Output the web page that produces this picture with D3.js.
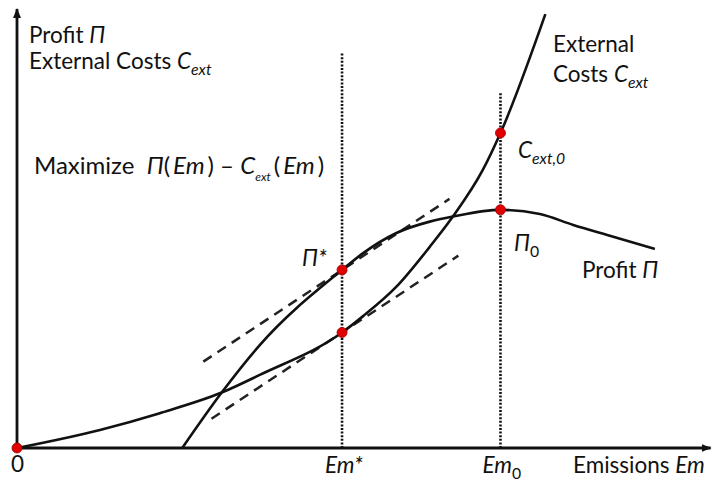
<!DOCTYPE html>
<html lang="en">
    <head>
        <meta charset="utf-8">
        <title>Profit vs External Costs</title>
        <script type="text/javascript" src="https://d3js.org/d3.v7.min.js"></script>
        <style type="text/css">
          body { margin: 0; background: #fff; }
          text { font-family: Lato, "Open Sans", sans-serif; fill: #111; white-space: pre; }
        </style>
    </head>
    <body>
        <svg width="713" height="481"></svg>
        <script type="text/javascript">

            const svg = d3.select("svg");

            // emissions (x) and values (y), arbitrary units 0..10
            const profitEm  = [2.43, 3.01, 3.57, 4.78, 5.09, 5.58, 6.07, 6.41, 7.11, 7.69, 8.18, 8.68, 9.38];
            const profitVal = [0, 1.32, 2.45, 4.24, 4.64, 5.12, 5.39, 5.51, 5.67, 5.57, 5.31, 5.07, 4.74];

            const costEm  = [0, 1.22, 2.10, 3.01, 3.57, 4.78, 5.09, 5.58, 6.07, 6.41, 6.85, 7.11, 7.77];
            const costVal = [0, 0.43, 0.83, 1.32, 1.74, 2.75, 3.14, 3.84, 4.79, 5.51, 6.62, 7.50, 10.33];

            const emStar = 4.78, emZero = 7.11;
            const piStar = 4.24, cStar = 2.75, piZero = 5.67, cZero = 7.50;

            // tangent lines (same slope), start/end emissions
            const tangentSlope = 1.07;
            const tangentUpper = [2.74, 6.36];
            const tangentLower = [2.86, 6.49];

            // top of the dotted guides
            const guideTop = [9.43, 8.48];

            //scales
            const x = d3.scaleLinear().domain([0, 10]).range([17, 697]);
            const y = d3.scaleLinear().domain([0, 10]).range([448, 28]);

            const line = d3.line()
                           .x(d => x(d[0]))
                           .y(d => y(d[1]))
                           .curve(d3.curveMonotoneX);

            const straight = d3.line().x(d => x(d[0])).y(d => y(d[1]));

            // arrow marker
            svg.append("defs").append("marker")
               .attr("id", "arrow")
               .attr("viewBox", "0 0 10 10")
               .attr("refX", 9).attr("refY", 5)
               .attr("markerWidth", 10).attr("markerHeight", 10)
               .attr("markerUnits", "userSpaceOnUse")
               .attr("orient", "auto")
               .append("path")
               .attr("d", "M0,1 L10,5 L0,9 z")
               .style("fill", "#111");

            // dotted guides
            svg.selectAll(".guide")
               .data([emStar, emZero])
               .enter()
               .append("line")
               .attr("x1", d => x(d)).attr("x2", d => x(d))
               .attr("y1", y(0))
               .attr("y2", (d, i) => y(guideTop[i]))
               .style("stroke", "#111")
               .style("stroke-width", 2.6)
               .style("stroke-dasharray", "2,1.6");

            // axes
            svg.append("line")
               .attr("x1", x(0)).attr("y1", y(0))
               .attr("x2", x(10.2)).attr("y2", y(0))
               .style("stroke", "#111").style("stroke-width", 2.8)
               .attr("marker-end", "url(#arrow)");
            svg.append("line")
               .attr("x1", x(0)).attr("y1", y(0))
               .attr("x2", x(0)).attr("y2", y(10.45))
               .style("stroke", "#111").style("stroke-width", 2.8)
               .attr("marker-end", "url(#arrow)");

            // dashed tangents
            const tangents = [
              {range: tangentUpper, em: emStar, v: piStar},
              {range: tangentLower, em: emStar, v: cStar}
            ];
            svg.selectAll(".tangent")
               .data(tangents)
               .enter()
               .append("path")
               .attr("d", t => straight(t.range.map(e => [e, t.v + tangentSlope * (e - t.em)])))
               .style("fill", "none")
               .style("stroke", "#222")
               .style("stroke-width", 2.5)
               .style("stroke-dasharray", "10,7");

            // curves
            svg.append("path")
               .attr("d", line(d3.zip(profitEm, profitVal)))
               .style("fill", "none").style("stroke", "#111").style("stroke-width", 2.6);
            svg.append("path")
               .attr("d", line(d3.zip(costEm, costVal)))
               .style("fill", "none").style("stroke", "#111").style("stroke-width", 2.6);

            // red points
            const dots = [[0, 0], [emStar, piStar], [emStar, cStar], [emZero, piZero], [emZero, cZero]];
            svg.selectAll(".dot")
               .data(dots)
               .enter()
               .append("circle")
               .attr("cx", d => x(d[0]))
               .attr("cy", d => y(d[1]))
               .attr("r", 5)
               .style("fill", "#e00000")
               .style("stroke", "#900")
               .style("stroke-width", 0.8);

            // labels: parts are [text, italic, sub, back-up, size factor]
            function label(px, py, parts, size) {
              const t = svg.append("text").attr("x", px).attr("y", py).style("font-size", size + "px");
              parts.forEach(p => {
                const s = t.append("tspan").text(p[0]);
                if (p[1]) s.style("font-style", "italic");
                if (p[2]) s.style("font-size", (size * (p[4] || 0.7)) + "px").attr("dy", size * 0.28);
                if (p[3]) s.attr("dy", -size * 0.28);
              });
              return t;
            }

            const fs = 22.5;
            const thin = "\u2009";
            label(29, 43, [["Profit "], ["Π", true]], fs);
            label(29, 69, [["External Costs "], ["C", true], ["ext", true, true]], fs);
            label(34, 174, [["Maximize  "], ["Π", true], ["(" + thin, false], ["Em", true], [thin + ") – "], ["C", true],
                            ["ext", true, true, false, 0.5], [thin + "(" + thin, false, false, true], ["Em", true], [thin + ")"]], 24);
            label(553, 52, [["External"]], fs);
            label(553, 82, [["Costs "], ["C", true], ["ext", true, true]], fs);
            label(518, 158, [["C", true], ["ext,0", true, true]], fs);
            label(302, 266, [["Π*", true]], fs);
            label(514, 251, [["Π", true], ["0", false, true]], fs);
            label(582, 278, [["Profit "], ["Π", true]], fs);

            label(x(0) - 6, 472, [["0"]], fs);
            label(x(emStar) - 17, 473, [["Em*", true]], fs);
            label(x(emZero) - 18, 473, [["Em", true], ["0", false, true]], fs);
            label(573, 473, [["Emissions "], ["Em", true]], fs);

        </script>
    </body>
</html>
